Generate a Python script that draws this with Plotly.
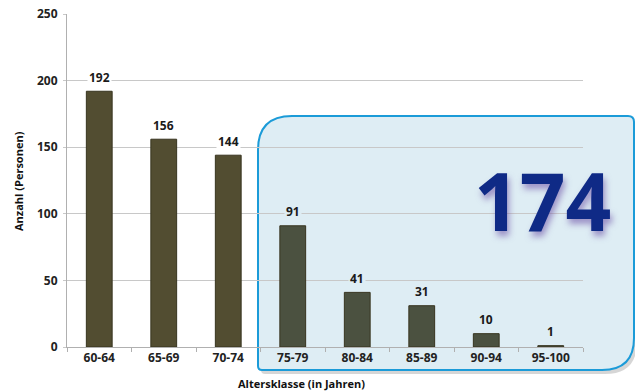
import plotly.graph_objects as go

categories = ["60-64", "65-69", "70-74", "75-79", "80-84", "85-89", "90-94", "95-100"]
values = [192, 156, 144, 91, 41, 31, 10, 1]
highlight_total = "174"
y_ticks = [0, 50, 100, 150, 200, 250]

W, H = 635, 392
ML, MR, MT, MB = 67, 52, 14, 45
PW, PH = W - ML - MR, H - MT - MB

def px(x):
    return (x - ML) / PW

def py(y):
    return (H - MB - y) / PH

FONT = "Open Sans"
BOX_FILL = "#deedf4"
bar_colors = ["#524d31"] * 3 + ["#4b5140"] * 5
label_bg = ["white"] * 3 + [BOX_FILL] * 5

fig = go.Figure()
fig.add_trace(go.Bar(
    x=categories, y=values,
    marker=dict(color=bar_colors, line=dict(color="#37341f", width=1)),
    width=0.4, hoverinfo="skip",
))

def rounded_path(L, T, R, B, r_tl, r_tr, r_br, r_bl, dx=0, dy=0):
    L, T, R, B = L + dx, T + dy, R + dx, B + dy
    p = []
    p.append(f"M {px(L)},{py(T + r_tl)}")
    p.append(f"Q {px(L)},{py(T)} {px(L + r_tl)},{py(T)}")
    p.append(f"L {px(R - r_tr)},{py(T)}")
    p.append(f"Q {px(R)},{py(T)} {px(R)},{py(T + r_tr)}")
    p.append(f"L {px(R)},{py(B - r_br)}")
    p.append(f"Q {px(R)},{py(B)} {px(R - r_br)},{py(B)}")
    p.append(f"L {px(L + r_bl)},{py(B)}")
    p.append(f"Q {px(L)},{py(B)} {px(L)},{py(B - r_bl)}")
    p.append("Z")
    return " ".join(p)

box = (258, 116, 634, 370, 34, 6, 32, 4)
shapes = [
    dict(type="path", xref="paper", yref="paper", layer="below",
         path=rounded_path(*box, dx=3, dy=4),
         fillcolor="rgba(0,0,0,0.16)", line=dict(width=0)),
    dict(type="path", xref="paper", yref="paper", layer="below",
         path=rounded_path(*box),
         fillcolor=BOX_FILL, line=dict(color="#1b9bd8", width=2)),
]

annotations = []
for c, v, bg in zip(categories, values, label_bg):
    annotations.append(dict(
        x=c, y=v, xref="x", yref="y", text=str(v), showarrow=False,
        xanchor="center", yanchor="middle",
        yshift=14, font=dict(family=FONT, size=12, color="#1a1a1a", weight="bold"),
        bgcolor=bg, borderpad=1,
    ))

annotations.append(dict(
    x=px(542), y=py(199), xref="paper", yref="paper", text=highlight_total,
    showarrow=False, xanchor="center", yanchor="middle",
    font=dict(family=FONT, size=80, color="#0f2a86", weight="bold",
              shadow="2px 5px 6px rgba(100,70,160,0.55)"),
))
annotations.append(dict(
    x=px(18), y=py(181), xref="paper", yref="paper", text="Anzahl (Personen)",
    showarrow=False, textangle=-90, xanchor="center", yanchor="middle",
    font=dict(family=FONT, size=11, color="#111", weight="bold"),
))
annotations.append(dict(
    x=px(301), y=py(383), xref="paper", yref="paper", text="Altersklasse (in Jahren)",
    showarrow=False, xanchor="center", yanchor="middle",
    font=dict(family=FONT, size=11, color="#111", weight="bold"),
))

fig.update_layout(
    width=W, height=H,
    margin=dict(l=ML, r=MR, t=MT, b=MB, pad=0, autoexpand=False),
    paper_bgcolor="white", plot_bgcolor="rgba(0,0,0,0)",
    showlegend=False, shapes=shapes, annotations=annotations,
    xaxis=dict(
        type="category", showgrid=False, showline=True, linecolor="#b0b0b0",
        ticks="outside", tickson="boundaries", ticklen=4, tickcolor="#b0b0b0",
        tickfont=dict(family=FONT, size=12, color="#222", weight="bold"),
        range=[-0.5, 7.5], automargin=False,
    ),
    yaxis=dict(
        range=[0, 250], tickvals=y_ticks, showgrid=True, gridcolor="#c8c8c8",
        showline=True, linecolor="#b0b0b0", ticks="outside", ticklen=3,
        tickcolor="#c8c8c8", zeroline=False, automargin=False,
        ticklabelstandoff=3,
        tickfont=dict(family=FONT, size=12, color="#222", weight="bold"),
    ),
)

fig.write_html("out.html")
